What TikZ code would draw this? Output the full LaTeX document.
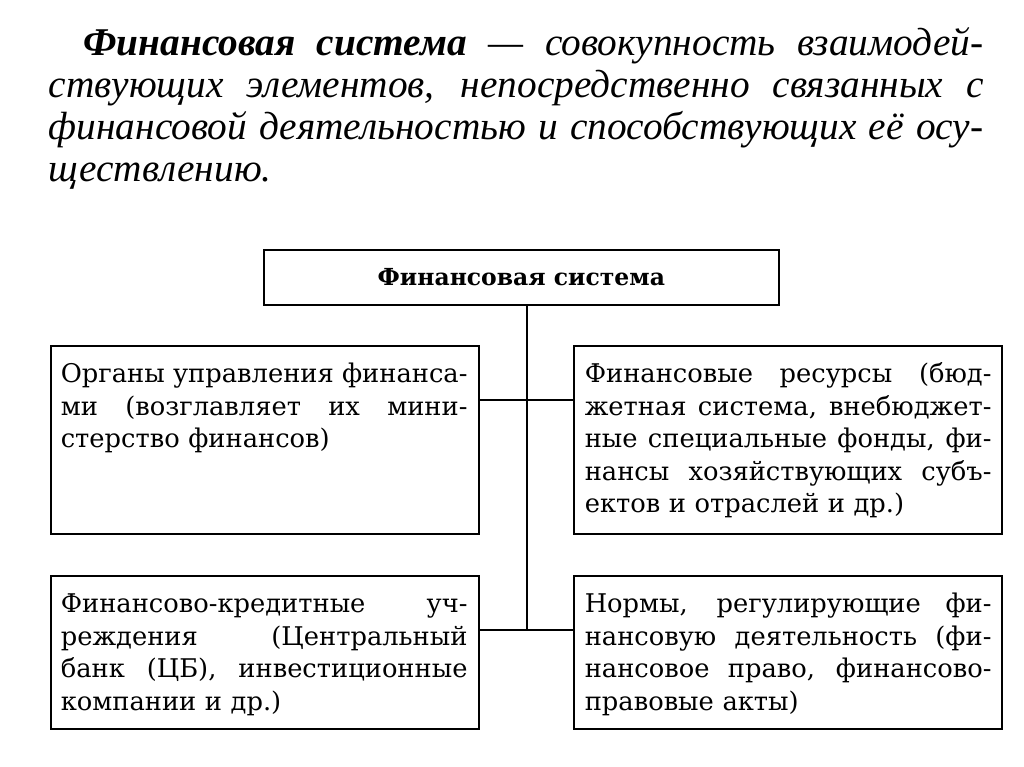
\documentclass[tikz,border=0pt]{standalone}
\usepackage{fontspec}
\setmainfont{DejaVu Serif}
\newfontfamily\defnfont{Liberation Serif}
\usetikzlibrary{positioning,calc}
\newcommand{\jl}[1]{\hbox to\hsize{\spaceskip=0pt\xspaceskip=0pt #1}}
\newcommand{\rl}[1]{\hbox to\hsize{#1\hfil}}

\begin{document}
\begin{tikzpicture}[x=0.75pt,y=-0.75pt,line width=1.2pt,
  frame/.style={draw,anchor=north west,inner sep=0pt,minimum width=321pt},
  body/.style={anchor=north west,inner sep=0pt,text width=305pt,align=left,
    font=\fontsize{19.3}{24.4}\selectfont}]
\useasboundingbox (0,0) rectangle (1024,767);
% definition above the scheme
\node[anchor=north west,inner sep=0pt,text width=701pt,align=left,
  font=\defnfont\fontsize{29.5}{31.5}\selectfont\itshape] (definition) at (48,25.6) {%
  \jl{\strut\hskip26pt\textbf{Финансовая система} — совокупность взаимодей-}
  \jl{ствующих элементов, непосредственно связанных с}
  \jl{финансовой деятельностью и способствующих её осу-}
  \rl{ществлению.}};
% head of the scheme
\node[draw,anchor=north west,minimum width=386.25pt,minimum height=41.25pt,
  font=\fontsize{17.6}{20}\selectfont\bfseries] (system) at (263,249) {Финансовая система};
% four parts
\node[frame,minimum height=141pt] (organs) at (50,345) {};
\node[frame,minimum height=141pt] (resources) at (573,345) {};
\node[frame,minimum height=114.75pt] (credit) at (50,575) {};
\node[frame,minimum height=114.75pt] (norms) at (573,575) {};
\node[body] (organs-text) at ([shift={(10,14)}]organs.north west) {%
  \jl{\strut Органы управления финанса-}
  \jl{ми (возглавляет их мини-}
  \rl{стерство финансов)}};
\node[body] (resources-text) at ([shift={(11,14)}]resources.north west) {%
  \jl{\strut Финансовые ресурсы (бюд-}
  \jl{жетная система, внебюджет-}
  \jl{ные специальные фонды, фи-}
  \jl{нансы хозяйствующих субъ-}
  \rl{ектов и отраслей и др.)}};
\node[body] (credit-text) at ([shift={(10,14)}]credit.north west) {%
  \jl{\strut Финансово-кредитные уч-}
  \jl{реждения (Центральный}
  \jl{банк (ЦБ), инвестиционные}
  \rl{компании и др.)}};
\node[body] (norms-text) at ([shift={(11,14)}]norms.north west) {%
  \jl{\strut Нормы, регулирующие фи-}
  \jl{нансовую деятельность (фи-}
  \jl{нансовое право, финансово-}
  \rl{правовые акты)}};
% connectors
\coordinate (j1) at (527,400);
\coordinate (j2) at (527,630);
\draw (system.south -| j1) -- (j2);
\draw (organs.east |- j1) -- (resources.west |- j1);
\draw (credit.east |- j2) -- (norms.west |- j2);
\end{tikzpicture}
\end{document}
